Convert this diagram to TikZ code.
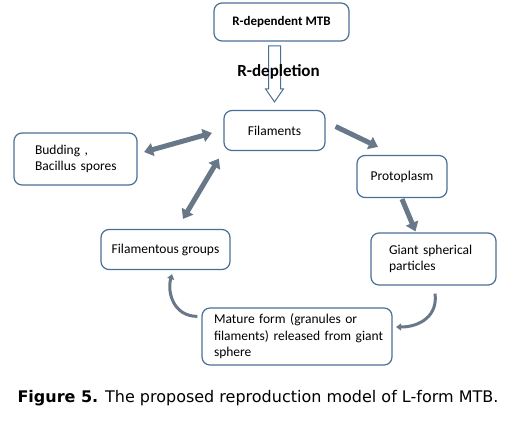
\documentclass[tikz,border=0pt]{standalone}
\usepackage{fontspec}
\setmainfont{Carlito}
\newfontfamily\capfont{DejaVu Sans}
\usetikzlibrary{positioning, arrows.meta, calc}
\definecolor{boxedge}{HTML}{4A6E94}
\definecolor{arrowgray}{HTML}{687889}

\begin{document}
\begin{tikzpicture}[
    x=1pt, y=-1pt,
    >=Stealth,
    box/.style={draw=boxedge, line width=1.2pt, rounded corners=8pt, inner sep=0pt,
        font=\fontsize{13.5}{16.5}\selectfont},
    leftbox/.style={box, align=left, inner ysep=6pt},
    blockarrow/.style={draw=arrowgray, line width=5pt, -{Triangle[length=9pt, width=13pt]}},
    twoway/.style={draw=arrowgray, line width=5pt, {Triangle[length=9pt, width=13pt]}-{Triangle[length=9pt, width=13pt]}},
    curvearrow/.style={draw=arrowgray, line width=3pt, -{Triangle[length=5pt, width=7pt]}},
    hollowarrow/.style={draw=boxedge, line width=1pt, fill=white},
]
\useasboundingbox (0,0) rectangle (516,423);

\node[box, minimum width=135pt, minimum height=38pt, font=\fontsize{13}{16}\selectfont\bfseries] (mtb) at (281.5,22) {R-dependent MTB};
\node[box, minimum width=101pt, minimum height=40pt] (fil) at (274.5,130.5) {Filaments};
\node[leftbox, inner xsep=21pt, text width=81pt, minimum height=52pt] (bud) at (75.5,159) {\mbox{Budding ,}\\ \mbox{Bacillus spores}};
\node[box, minimum width=90pt, minimum height=42pt] (proto) at (402,176.5) {Protoplasm};
\node[leftbox, inner xsep=18pt, text width=89pt, minimum height=52pt] (giant) at (433.5,259) {\mbox{Giant spherical}\\ particles};
\node[box, minimum width=129pt, minimum height=40pt] (fgroups) at (165.5,249.5) {Filamentous groups};
\node[leftbox, inner xsep=12pt, text width=166pt, minimum height=56pt] (mature) at (297,336.5) {\mbox{Mature form (granules or}\\ \mbox{filaments) released from giant}\\ sphere};

\coordinate (htip) at ($(fil.north)+(0,-8)$);
\draw[hollowarrow] (htip) -- ++(-9,-13) -- ++(3,0) -- ++(0,-43) -- ++(12,0) -- ++(0,43) -- ++(3,0) -- cycle;
\node[font=\fontsize{17}{20}\selectfont\bfseries] (dep) at (278.5,72) {R-depletion};

\draw[blockarrow] ($(fil.east)+(10,-4)$) -- ($(proto.north)+(-24,-8)$);
\draw[blockarrow] ($(proto.south)+(0,1)$) -- ($(giant.north)+(-18,-1)$);
\draw[twoway] ($(bud.east)+(6.5,-7)$) -- ($(fil.west)+(-11.5,2.5)$);
\draw[twoway] ($(fgroups.north)+(17.5,-10)$) -- ($(fil.south west)+(-4.5,7.5)$);
\draw[curvearrow] ($(giant.south)+(1.5,8)$) .. controls +(3,22) and +(24,0) .. ($(mature.east)+(3.5,-9.5)$);
\draw[curvearrow] ($(mature.north west)+(-4,9)$) .. controls +(-24,0) and +(-5,18) .. ($(fgroups.south)+(6.5,4)$);

\node[font=\capfont\fontsize{16}{19}\selectfont, anchor=west] (cap) at (14,398) {\textbf{Figure 5.} The proposed reproduction model of L-form MTB.};
\end{tikzpicture}
\end{document}
